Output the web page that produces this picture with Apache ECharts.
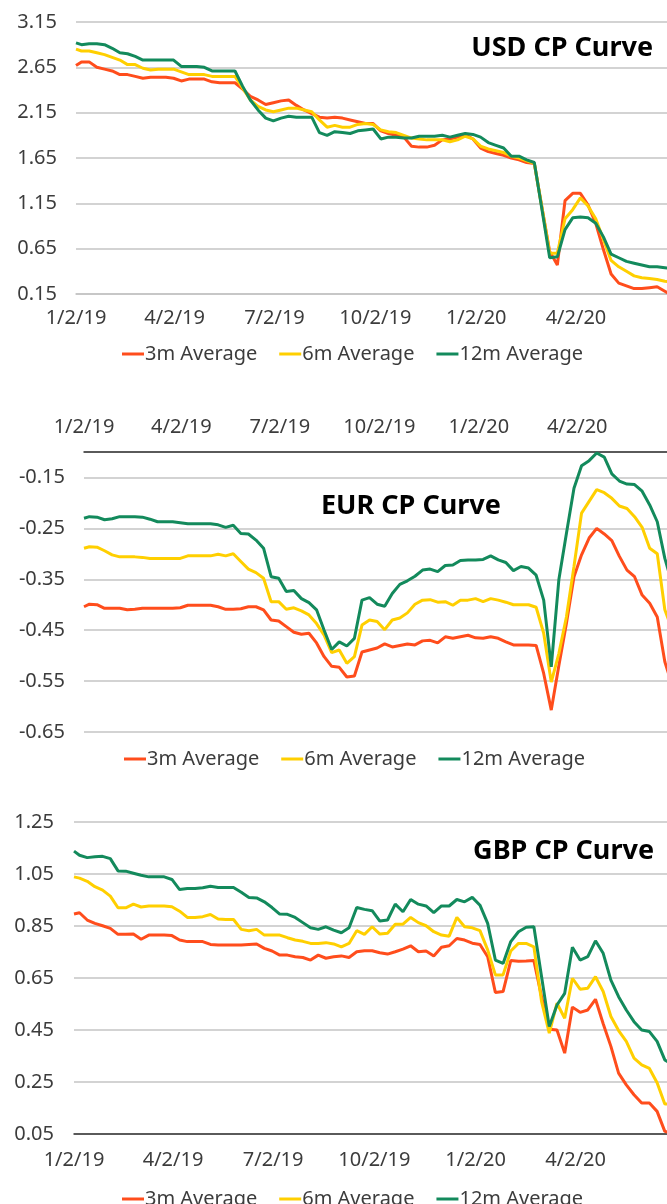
<!DOCTYPE html>
<html>
<head>
<meta charset="utf-8">
<title>CP Curves</title>
<script src="https://cdn.jsdelivr.net/npm/echarts@6/dist/echarts.min.js"></script>
<style>
    html, body { margin: 0; padding: 0; background: #fff; }
    #main { width: 667px; height: 1204px; }
</style>
</head>
<body>
<div id="main"></div>
<script>
// weekly observation dates
var weekDates = [
    '2019-01-02', '2019-01-07', '2019-01-14', '2019-01-21', '2019-01-28', '2019-02-04', '2019-02-11', '2019-02-18', '2019-02-25', '2019-03-04',
    '2019-03-11', '2019-03-18', '2019-03-25', '2019-04-01', '2019-04-08', '2019-04-15', '2019-04-22', '2019-04-29', '2019-05-06', '2019-05-13',
    '2019-05-20', '2019-05-27', '2019-06-03', '2019-06-10', '2019-06-17', '2019-06-24', '2019-07-01', '2019-07-08', '2019-07-15', '2019-07-22',
    '2019-07-29', '2019-08-05', '2019-08-12', '2019-08-19', '2019-08-26', '2019-09-02', '2019-09-09', '2019-09-16', '2019-09-23', '2019-09-30',
    '2019-10-07', '2019-10-14', '2019-10-21', '2019-10-28', '2019-11-04', '2019-11-11', '2019-11-18', '2019-11-25', '2019-12-02', '2019-12-09',
    '2019-12-16', '2019-12-23', '2019-12-30', '2020-01-06', '2020-01-13', '2020-01-20', '2020-01-27', '2020-02-03', '2020-02-10', '2020-02-17',
    '2020-02-24', '2020-03-02', '2020-03-09', '2020-03-16', '2020-03-23', '2020-03-30', '2020-04-06', '2020-04-13', '2020-04-20', '2020-04-27',
    '2020-05-04', '2020-05-11', '2020-05-18', '2020-05-25', '2020-06-01', '2020-06-08', '2020-06-15', '2020-06-22', '2020-06-29'
];
var xStart = '2019-01-02';
var xEnd = '2020-06-24';
var xTickDates = ['2019-01-02', '2019-04-02', '2019-07-02', '2019-10-02', '2020-01-02', '2020-04-02'];
var xTickLabels = ['1/2/19', '4/2/19', '7/2/19', '10/2/19', '1/2/20', '4/2/20'];

var seriesNames = ['3m Average', '6m Average', '12m Average'];
var lineColors = ['#ff4d1c', '#ffcf00', '#138a5c'];

// USD
var usd3m = [
    2.67, 2.71, 2.71, 2.65, 2.63, 2.61, 2.57, 2.57, 2.55, 2.53,
    2.54, 2.54, 2.54, 2.53, 2.50, 2.52, 2.52, 2.52, 2.49, 2.48,
    2.48, 2.48, 2.41, 2.33, 2.29, 2.24, 2.26, 2.28, 2.29, 2.23,
    2.18, 2.14, 2.10, 2.09, 2.10, 2.09, 2.07, 2.05, 2.03, 2.03,
    1.95, 1.92, 1.90, 1.88, 1.78, 1.77, 1.77, 1.79, 1.85, 1.86,
    1.88, 1.91, 1.86, 1.76, 1.72, 1.70, 1.68, 1.65, 1.63, 1.60,
    1.59, 1.10, 0.62, 0.47, 1.18, 1.26, 1.26, 1.13, 0.93, 0.64,
    0.37, 0.27, 0.24, 0.21, 0.21, 0.22, 0.23, 0.18, 0.13
];
var usd6m = [
    2.85, 2.83, 2.83, 2.81, 2.79, 2.76, 2.73, 2.68, 2.68, 2.64,
    2.62, 2.63, 2.63, 2.63, 2.60, 2.57, 2.57, 2.57, 2.55, 2.55,
    2.55, 2.55, 2.42, 2.29, 2.22, 2.18, 2.16, 2.18, 2.20, 2.20,
    2.18, 2.16, 2.07, 1.99, 2.01, 1.99, 1.99, 2.02, 2.03, 2.02,
    1.96, 1.94, 1.93, 1.90, 1.87, 1.86, 1.85, 1.85, 1.85, 1.83,
    1.85, 1.89, 1.86, 1.78, 1.75, 1.73, 1.71, 1.67, 1.65, 1.62,
    1.59, 1.10, 0.60, 0.60, 0.98, 1.08, 1.21, 1.12, 0.98, 0.75,
    0.52, 0.45, 0.40, 0.35, 0.33, 0.32, 0.31, 0.29, 0.28
];
var usd12m = [
    2.92, 2.90, 2.91, 2.91, 2.90, 2.86, 2.81, 2.80, 2.77, 2.73,
    2.73, 2.73, 2.73, 2.73, 2.66, 2.66, 2.66, 2.65, 2.61, 2.61,
    2.61, 2.61, 2.44, 2.29, 2.18, 2.09, 2.06, 2.09, 2.11, 2.10,
    2.10, 2.10, 1.93, 1.90, 1.94, 1.93, 1.92, 1.95, 1.96, 1.97,
    1.86, 1.88, 1.88, 1.87, 1.87, 1.89, 1.89, 1.89, 1.90, 1.88,
    1.90, 1.92, 1.91, 1.88, 1.82, 1.79, 1.76, 1.67, 1.67, 1.63,
    1.60, 1.08, 0.55, 0.56, 0.86, 0.99, 1.00, 0.99, 0.93, 0.78,
    0.59, 0.55, 0.51, 0.49, 0.47, 0.45, 0.45, 0.44, 0.43
];

// EUR
var eur3m = [
    -0.404, -0.399, -0.400, -0.407, -0.407, -0.407, -0.410, -0.409, -0.407, -0.407,
    -0.407, -0.407, -0.407, -0.406, -0.401, -0.401, -0.401, -0.401, -0.404, -0.409,
    -0.409, -0.408, -0.404, -0.404, -0.410, -0.430, -0.432, -0.443, -0.454, -0.458,
    -0.456, -0.475, -0.502, -0.521, -0.523, -0.542, -0.540, -0.493, -0.489, -0.485,
    -0.477, -0.483, -0.480, -0.477, -0.479, -0.471, -0.470, -0.475, -0.463, -0.466,
    -0.463, -0.460, -0.465, -0.466, -0.463, -0.466, -0.473, -0.479, -0.479, -0.479,
    -0.480, -0.535, -0.607, -0.520, -0.437, -0.345, -0.302, -0.269, -0.250, -0.261,
    -0.274, -0.305, -0.332, -0.345, -0.381, -0.397, -0.424, -0.512, -0.560
];
var eur6m = [
    -0.289, -0.286, -0.287, -0.294, -0.302, -0.306, -0.306, -0.306, -0.307, -0.309,
    -0.309, -0.309, -0.309, -0.309, -0.304, -0.304, -0.304, -0.304, -0.301, -0.304,
    -0.300, -0.315, -0.330, -0.337, -0.348, -0.394, -0.394, -0.409, -0.406, -0.412,
    -0.420, -0.437, -0.460, -0.494, -0.489, -0.515, -0.502, -0.440, -0.430, -0.433,
    -0.449, -0.430, -0.426, -0.416, -0.399, -0.391, -0.390, -0.395, -0.394, -0.401,
    -0.391, -0.391, -0.388, -0.394, -0.388, -0.391, -0.395, -0.400, -0.400, -0.400,
    -0.405, -0.456, -0.552, -0.496, -0.424, -0.325, -0.220, -0.197, -0.174, -0.180,
    -0.191, -0.206, -0.211, -0.227, -0.248, -0.289, -0.300, -0.410, -0.450
];
var eur12m = [
    -0.230, -0.227, -0.228, -0.233, -0.231, -0.227, -0.227, -0.227, -0.228, -0.232,
    -0.237, -0.237, -0.237, -0.239, -0.241, -0.241, -0.241, -0.241, -0.243, -0.248,
    -0.244, -0.260, -0.261, -0.273, -0.289, -0.345, -0.348, -0.374, -0.372, -0.388,
    -0.396, -0.410, -0.450, -0.488, -0.473, -0.481, -0.466, -0.391, -0.386, -0.399,
    -0.403, -0.378, -0.360, -0.353, -0.344, -0.332, -0.330, -0.335, -0.323, -0.322,
    -0.313, -0.312, -0.312, -0.311, -0.304, -0.312, -0.317, -0.333, -0.325, -0.328,
    -0.342, -0.391, -0.522, -0.351, -0.260, -0.171, -0.127, -0.117, -0.102, -0.110,
    -0.143, -0.157, -0.163, -0.164, -0.177, -0.204, -0.237, -0.309, -0.360
];

// GBP
var gbp3m = [
    0.896, 0.901, 0.873, 0.860, 0.851, 0.841, 0.818, 0.818, 0.819, 0.799,
    0.815, 0.815, 0.815, 0.813, 0.796, 0.790, 0.790, 0.790, 0.779, 0.777,
    0.777, 0.777, 0.777, 0.779, 0.781, 0.764, 0.754, 0.738, 0.738, 0.732,
    0.729, 0.719, 0.738, 0.726, 0.732, 0.735, 0.729, 0.751, 0.755, 0.755,
    0.747, 0.742, 0.751, 0.761, 0.774, 0.751, 0.754, 0.735, 0.768, 0.774,
    0.802, 0.796, 0.784, 0.779, 0.732, 0.594, 0.598, 0.717, 0.714, 0.715,
    0.717, 0.578, 0.453, 0.450, 0.361, 0.538, 0.518, 0.527, 0.568, 0.474,
    0.387, 0.284, 0.239, 0.201, 0.169, 0.169, 0.137, 0.060, 0.054
];
var gbp6m = [
    1.039, 1.034, 1.022, 1.001, 0.988, 0.965, 0.920, 0.920, 0.934, 0.923,
    0.927, 0.927, 0.927, 0.924, 0.907, 0.883, 0.883, 0.886, 0.894, 0.877,
    0.875, 0.875, 0.837, 0.832, 0.837, 0.815, 0.815, 0.815, 0.805, 0.796,
    0.791, 0.783, 0.783, 0.786, 0.781, 0.770, 0.783, 0.832, 0.818, 0.847,
    0.819, 0.822, 0.857, 0.857, 0.883, 0.863, 0.851, 0.828, 0.815, 0.811,
    0.883, 0.847, 0.843, 0.832, 0.758, 0.662, 0.662, 0.754, 0.783, 0.783,
    0.770, 0.559, 0.438, 0.553, 0.495, 0.649, 0.607, 0.611, 0.655, 0.598,
    0.502, 0.448, 0.406, 0.342, 0.316, 0.302, 0.247, 0.165, 0.165
];
var gbp12m = [
    1.138, 1.122, 1.113, 1.116, 1.118, 1.109, 1.062, 1.061, 1.053, 1.045,
    1.039, 1.039, 1.039, 1.029, 0.990, 0.994, 0.994, 0.997, 1.003, 0.998,
    0.998, 0.998, 0.980, 0.960, 0.958, 0.943, 0.921, 0.896, 0.895, 0.883,
    0.863, 0.843, 0.837, 0.847, 0.834, 0.824, 0.843, 0.921, 0.914, 0.909,
    0.869, 0.873, 0.934, 0.905, 0.952, 0.934, 0.927, 0.901, 0.927, 0.927,
    0.952, 0.943, 0.960, 0.930, 0.860, 0.719, 0.706, 0.790, 0.828, 0.845,
    0.847, 0.655, 0.463, 0.546, 0.591, 0.768, 0.719, 0.732, 0.793, 0.745,
    0.642, 0.578, 0.527, 0.482, 0.450, 0.444, 0.406, 0.335, 0.316
];

// y axis ranges: [min, max, step]
var usdRange = [0.15, 3.15, 0.5];
var eurRange = [-0.65, -0.10, 0.1];
var gbpRange = [0.05, 1.25, 0.2];

(function() {
    var myChart = echarts.init(document.getElementById('main'));

    function dayNum(s) {
        return Math.round((Date.parse(s) - Date.parse(xStart)) / 86400000);
    }
    var tickDays = xTickDates.map(dayNum);
    var xDays = weekDates.map(dayNum);

    // 一个面板一个坐标系
    var panels = [{
        title: 'USD CP Curve', values: [usd3m, usd6m, usd12m], range: usdRange,
        grid: { left: 76, top: 22, height: 272 },
        xPos: 'bottom', axisColor: '#c4c4c4', xMargin: 14, yMargin: 19,
        titlePos: { right: 9, top: 30 }, legendPos: { left: 117, top: 339 }
    }, {
        title: 'EUR CP Curve', values: [eur3m, eur6m, eur12m], range: eurRange,
        grid: { left: 84, top: 452, height: 280 },
        xPos: 'top', axisColor: '#333', xMargin: 15, yMargin: 19,
        titlePos: { left: 316, top: 488 }, legendPos: { left: 119, top: 744 }
    }, {
        title: 'GBP CP Curve', values: [gbp3m, gbp6m, gbp12m], range: gbpRange,
        grid: { left: 74, top: 822, height: 312 },
        xPos: 'bottom', axisColor: '#333', xMargin: 16, yMargin: 20,
        titlePos: { right: 8, top: 833 }, legendPos: { left: 117, top: 1184 }
    }];

    var option = {
        animation: false,
        backgroundColor: '#fff',
        textStyle: { fontFamily: 'Noto Sans' },
        title: [], legend: [], grid: [], xAxis: [], yAxis: [], series: []
    };

    panels.forEach(function(p, n) {
        option.title.push(Object.assign({
            text: p.title,
            textStyle: { fontSize: 27, fontWeight: 'bold', color: '#000', fontFamily: 'Noto Sans' }
        }, p.titlePos));

        option.legend.push(Object.assign({
            data: seriesNames,
            icon: 'rect',
            itemWidth: 22,
            itemHeight: 3,
            itemGap: 22,
            selectedMode: false,
            textStyle: { fontSize: 20, color: '#3c3c3c', padding: [0, 0, 0, -4] }
        }, p.legendPos));

        option.grid.push(Object.assign({ right: 0, containLabel: false, outerBoundsMode: 'none' }, p.grid));

        option.xAxis.push({
            type: 'value',
            gridIndex: n,
            position: p.xPos,
            min: 0,
            max: dayNum(xEnd),
            axisLine: { onZero: false, lineStyle: { color: p.axisColor, width: 1.5 } },
            axisTick: { show: false },
            splitLine: { show: false },
            axisLabel: {
                customValues: tickDays,
                margin: p.xMargin,
                fontSize: 20,
                color: '#3c3c3c',
                formatter: function(v) {
                    var i = tickDays.indexOf(Math.round(v));
                    return i < 0 ? '' : xTickLabels[i];
                }
            }
        });

        option.yAxis.push({
            type: 'value',
            gridIndex: n,
            min: p.range[0],
            max: p.range[1],
            interval: p.range[2],
            axisLine: { show: false },
            axisTick: { show: false },
            splitLine: { lineStyle: { color: '#c4c4c4', width: 1.5 } },
            axisLabel: {
                margin: p.yMargin,
                fontSize: 20,
                color: '#3c3c3c',
                showMaxLabel: n !== 1,
                formatter: function(v) { return v.toFixed(2); }
            }
        });

        p.values.forEach(function(vals, s) {
            option.series.push({
                name: seriesNames[s],
                type: 'line',
                xAxisIndex: n,
                yAxisIndex: n,
                symbol: 'none',
                color: lineColors[s],
                lineStyle: { width: 3, color: lineColors[s] },
                data: xDays.map(function(d, i) { return [d, vals[i]]; })
            });
        });
    });

    myChart.setOption(option);

    window.addEventListener('resize', function() {
        myChart.resize();
    });
})();
</script>
</body>
</html>
